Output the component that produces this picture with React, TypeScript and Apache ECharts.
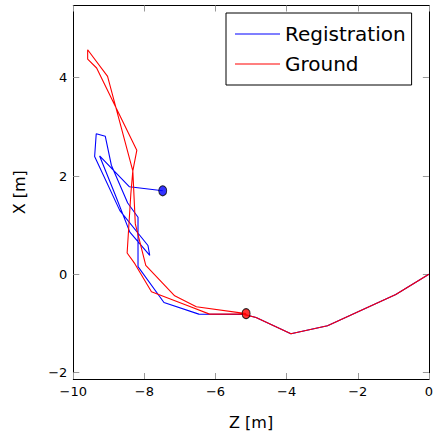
import React, { useEffect, useRef } from "react";
import * as echarts from "echarts";

// Registration trajectory (Z, X) in metres
const regZ = [0, -0.93, -1.96, -2.85, -3.88, -4.86, -5.19, -6.47, -7.45, -8.18, -8.18, -8.47, -8.93, -9.10, -9.355, -9.40, -8.69, -7.90, -7.85, -8.41, -8.83, -9.26, -8.42, -7.485];
const regX = [0, -0.41, -0.75, -1.045, -1.21, -0.88, -0.816, -0.81, -0.573, 0.156, 1.162, 1.451, 2.221, 2.808, 2.862, 2.397, 1.296, 0.587, 0.385, 0.858, 1.634, 2.409, 1.781, 1.70];

// Ground-truth trajectory (Z, X) in metres
const groundZ = [0, -0.93, -1.96, -2.85, -3.88, -4.86, -5.234, -6.168, -6.776, -7.802, -8.27, -8.486, -8.382, -8.326, -9.036, -9.596, -9.596, -9.344, -8.214, -8.326, -8.256, -7.962, -7.149, -6.54, -5.14];
const groundX = [0, -0.41, -0.75, -1.045, -1.21, -0.88, -0.81, -0.81, -0.64, -0.356, 0.217, 0.433, 1.634, 2.105, 4.028, 4.569, 4.381, 4.198, 2.524, 2.105, 1.026, 0.184, -0.437, -0.66, -0.8];

const xTicks = [-10, -8, -6, -4, -2, 0];
const yTicks = [-2, 0, 2, 4];

const FONT = "DejaVu Sans";
const fmt = (v: number) => (v < 0 ? "\u2212" + Math.abs(v) : String(v));

export default function App() {
  const ref = useRef<HTMLDivElement>(null);
  useEffect(() => {
    if (!ref.current) return;
    const chart = echarts.init(ref.current, null, { renderer: "svg" });
    const reg = regZ.map((z, i) => [z, regX[i]]);
    const gnd = groundZ.map((z, i) => [z, groundX[i]]);
    const tickStyle = { show: true, inside: true, length: 6, lineStyle: { color: "#999", width: 1 } };
    chart.setOption({
      animation: false,
      grid: { left: 73.3, right: 5.7, top: 5.5, bottom: 54, containLabel: false },
      legend: {
        data: [
          { name: "Registration", icon: "rect" },
          { name: "Ground", icon: "rect" },
        ],
        orient: "vertical",
        left: 226,
        top: 13,
        padding: [11, 6, 11, 9],
        itemGap: 10,
        itemWidth: 45,
        itemHeight: 1.2,
        borderColor: "#000",
        borderWidth: 1,
        backgroundColor: "#fff",
        textStyle: { fontFamily: FONT, fontSize: 20, color: "#000", lineHeight: 20 },
      },
      xAxis: [
        {
          type: "value",
          min: -10,
          max: 0,
          interval: 2,
          position: "bottom",
          name: "Z [m]",
          nameLocation: "middle",
          nameGap: 35,
          nameTextStyle: { fontFamily: FONT, fontSize: 16, color: "#000" },
          axisLine: { show: true, onZero: false, lineStyle: { color: "#000", width: 1 } },
          axisTick: tickStyle,
          axisLabel: { fontFamily: FONT, fontSize: 13, color: "#000", margin: 6, formatter: fmt, customValues: xTicks },
          splitLine: { show: false },
        },
        {
          type: "value",
          min: -10,
          max: 0,
          interval: 2,
          position: "top",
          axisLine: { show: true, onZero: false, lineStyle: { color: "#000", width: 1 } },
          axisTick: tickStyle,
          axisLabel: { show: false },
          splitLine: { show: false },
        },
      ],
      yAxis: [
        {
          type: "value",
          min: -2.13,
          max: 5.47,
          position: "left",
          name: "X [m]",
          nameLocation: "middle",
          nameGap: 46,
          nameTextStyle: { fontFamily: FONT, fontSize: 16, color: "#000" },
          axisLine: { show: true, onZero: false, lineStyle: { color: "#000", width: 1 } },
          axisTick: { ...tickStyle, customValues: yTicks },
          axisLabel: { fontFamily: FONT, fontSize: 13, color: "#000", margin: 6, formatter: fmt, customValues: yTicks },
          splitLine: { show: false },
        },
        {
          type: "value",
          min: -2.13,
          max: 5.47,
          position: "right",
          axisLine: { show: true, onZero: false, lineStyle: { color: "#000", width: 1 } },
          axisTick: { ...tickStyle, customValues: yTicks },
          axisLabel: { show: false },
          splitLine: { show: false },
        },
      ],
      series: [
        {
          name: "Registration",
          type: "line",
          data: reg,
          symbol: "none",
          lineStyle: { color: "#0000ff", width: 1.1 },
          itemStyle: { color: "#0000ff" },
          z: 3,
        },
        {
          name: "Ground",
          type: "line",
          data: gnd,
          symbol: "none",
          lineStyle: { color: "#ff0000", width: 1.1 },
          itemStyle: { color: "#ff0000" },
          z: 4,
        },
        {
          name: "RegistrationEnd",
          type: "scatter",
          data: [reg[reg.length - 1]],
          symbol: "circle",
          symbolSize: [8, 10],
          itemStyle: { color: "#0000ff", borderColor: "#000", borderWidth: 1 },
          z: 5,
        },
        {
          name: "GroundEnd",
          type: "scatter",
          data: [gnd[gnd.length - 1]],
          symbol: "circle",
          symbolSize: [8, 10],
          itemStyle: { color: "#ff0000", borderColor: "#000", borderWidth: 1 },
          z: 5,
        },
      ],
    });
    return () => chart.dispose();
  }, []);
  return <div ref={ref} style={{ width: 436, height: 435, position: "absolute", left: 0, top: 0 }} />;
}
